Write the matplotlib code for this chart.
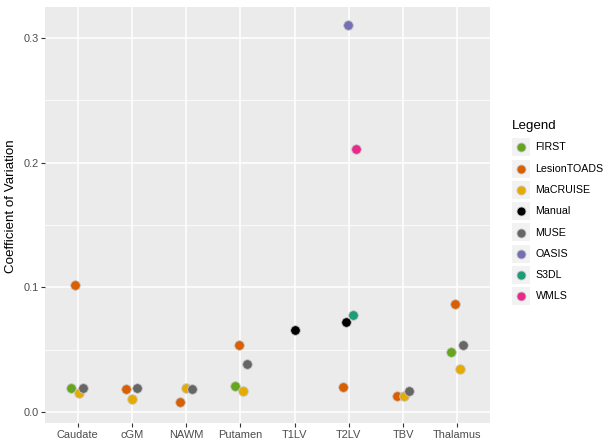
import matplotlib
matplotlib.use("Agg")
import matplotlib.pyplot as plt
from matplotlib.patches import Rectangle
from matplotlib.lines import Line2D

plt.rcParams['font.family'] = ['Liberation Sans', 'DejaVu Sans']

categories = ["Caudate", "cGM", "NAWM", "Putamen", "T1LV", "T2LV", "TBV", "Thalamus"]
methods = ["FIRST", "LesionTOADS", "MaCRUISE", "Manual", "MUSE", "OASIS", "S3DL", "WMLS"]
colors = {"FIRST": "#66A61E", "LesionTOADS": "#D95F02", "MaCRUISE": "#E6AB02",
          "Manual": "#000000", "MUSE": "#666666", "OASIS": "#7570B3",
          "S3DL": "#1B9E77", "WMLS": "#E7298A"}

# (category, method, coefficient of variation)
point_category = ["Caudate", "Caudate", "Caudate", "Caudate",
                  "cGM", "cGM", "cGM",
                  "NAWM", "NAWM", "NAWM",
                  "Putamen", "Putamen", "Putamen", "Putamen",
                  "T1LV",
                  "T2LV", "T2LV", "T2LV", "T2LV", "T2LV",
                  "TBV", "TBV", "TBV",
                  "Thalamus", "Thalamus", "Thalamus", "Thalamus"]
point_method = ["FIRST", "LesionTOADS", "MaCRUISE", "MUSE",
                "LesionTOADS", "MaCRUISE", "MUSE",
                "LesionTOADS", "MaCRUISE", "MUSE",
                "FIRST", "LesionTOADS", "MaCRUISE", "MUSE",
                "Manual",
                "LesionTOADS", "Manual", "OASIS", "S3DL", "WMLS",
                "LesionTOADS", "MaCRUISE", "MUSE",
                "FIRST", "LesionTOADS", "MaCRUISE", "MUSE"]
point_cv = [0.0189, 0.1021, 0.0155, 0.0192,
            0.0187, 0.0101, 0.0190,
            0.0083, 0.0195, 0.0187,
            0.0208, 0.0536, 0.0171, 0.0384,
            0.0659,
            0.0203, 0.0718, 0.3100, 0.0777, 0.2108,
            0.0128, 0.0128, 0.0165,
            0.0485, 0.0870, 0.0349, 0.0539]
# horizontal jitter (in category units) as seen in the reference
point_jitter = [-0.13, -0.05, 0.03, 0.105,
                -0.11, 0.0, 0.09,
                -0.11, -0.01, 0.10,
                -0.10, -0.03, 0.05, 0.13,
                0.0,
                -0.11, -0.06, -0.01, 0.07, 0.13,
                -0.11, 0.01, 0.10,
                -0.11, -0.04, 0.04, 0.11]

W, H = 611, 442
fig = plt.figure(figsize=(W / 100, H / 100), dpi=100)
L, R, T, B = 45, 490, 7, 423
ax = fig.add_axes([L / W, 1 - B / H, (R - L) / W, (B - T) / H])
ax.set_facecolor("#EBEBEB")
for s in ax.spines.values():
    s.set_visible(False)

ax.set_xlim(0.4, len(categories) + 0.6)
ax.set_ylim(-0.0088, 0.3248)
ax.set_yticks([0.0, 0.1, 0.2, 0.3])
ax.set_yticklabels(["0.0", "0.1", "0.2", "0.3"])
ax.set_yticks([0.05, 0.15, 0.25], minor=True)
ax.set_xticks(range(1, len(categories) + 1))
ax.set_xticklabels(categories)
ax.grid(True, which="major", color="white", linewidth=1.1)
ax.grid(True, which="minor", axis="y", color="white", linewidth=0.55)
ax.set_axisbelow(True)
ax.tick_params(axis="both", which="major", length=2.75, width=0.8, color="#333333",
               labelsize=7.9, labelcolor="#4D4D4D", pad=2)
ax.tick_params(axis="y", which="minor", length=0)
ax.set_ylabel("Coefficient of Variation", fontsize=9.6, color="black")
ax.yaxis.set_label_coords((16.5 - L) / (R - L), (B - 206) / (B - T))

cat_index = {c: i + 1 for i, c in enumerate(categories)}
for c, m, v, j in zip(point_category, point_method, point_cv, point_jitter):
    ax.scatter(cat_index[c] + j, v, s=48, color=colors[m], edgecolor="#C8C8C8",
               linewidth=0.6, zorder=3)

# legend
fig.text(511.5 / W, 1 - 126.5 / H, "Legend", fontsize=9.6, va="center", ha="left")
for i, m in enumerate(methods):
    yc = 147.3 + i * 21.3
    fig.patches.append(Rectangle((512 / W, 1 - (yc + 9) / H), 18 / W, 18 / H,
                                 transform=fig.transFigure, facecolor="#F2F2F2",
                                 edgecolor="none"))
    fig.lines.append(Line2D([521 / W], [1 - yc / H], transform=fig.transFigure,
                            marker="o", markersize=6.5, color=colors[m],
                            markeredgecolor="#C8C8C8", markeredgewidth=0.6, linestyle="none"))
    fig.text(535.5 / W, 1 - yc / H, m, fontsize=7.7, va="center", ha="left", color="black")

fig.savefig("out.png", dpi=100)
